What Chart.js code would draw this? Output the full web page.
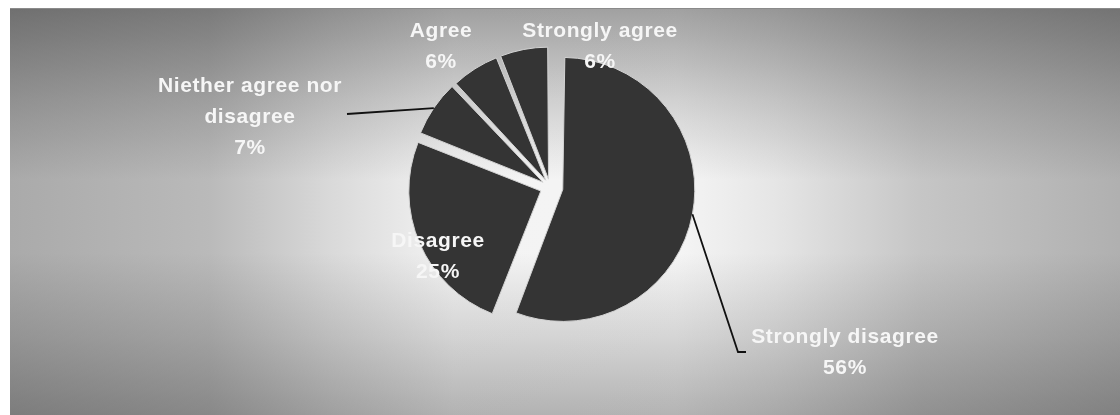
<!DOCTYPE html>
<html>
<head>
<meta charset="utf-8">
<script src="https://cdn.jsdelivr.net/npm/chart.js@4/dist/chart.umd.min.js"></script>
<style>
    body { margin: 0; background: #fff; }
    #wrap { position: relative; width: 1120px; height: 415px; }
    #panel {
        position: absolute; left: 10px; top: 8px; width: 1110px; height: 407px;
        background-image:
            linear-gradient(90deg, #acacac 0%, #bcbcbc 18%, #dcdcdc 29%, #f6f6f6 40%, #f8f8f8 60%, #e8e8e8 69%, #c8c8c8 82%, #b2b2b2 100%),
            linear-gradient(180deg, #a6a6a6 0%, #d6d6d6 22%, #fcfcfc 42%, #fcfcfc 60%, #dcdcdc 80%, #b8b8b8 100%);
        background-blend-mode: multiply;
        border-top: 1px solid #8a8a8a;
    }
    canvas { position: absolute; left: 0; top: 0; }
</style>
</head>
<body>
<div id="wrap">
    <div id="panel"></div>
    <canvas id="pie" width="1120" height="415"></canvas>
</div>
<script>
// survey answers, clockwise from 12 o'clock
const labels = ['Strongly disagree', 'Disagree', 'Niether agree nor disagree', 'Agree', 'Strongly agree'];
const values = [56, 25, 7, 6, 6];

// how each label is written (line breaks as in the picture)
const labelLines = [
    ['Strongly disagree'],
    ['Disagree'],
    ['Niether agree nor', 'disagree'],
    ['Agree'],
    ['Strongly agree']
];

// label placement relative to the pie centre: [dx, dy of first baseline], leader points or null
const labelLayout = [
    {dx: 295, dy: 156, leader: [[188, 165], [196, 165]]},
    {dx: -112, dy: 60, leader: null},
    {dx: -300, dy: -95, leader: [[-203, -73]]},
    {dx: -109, dy: -150, leader: null},
    {dx: 50, dy: -150, leader: null}
];

const pieRadius = 132;
const explode = [52, 40, 34, 32, 32]; // chart.js moves a slice by offset/4
const lineHeight = 31;

function fixOf(arc) {
    return 1 - Math.sin(Math.min(Math.PI, (arc.endAngle - arc.startAngle) || 0));
}

const pieLabels = {
    id: 'pieLabels',
    beforeDatasetsDraw(chart) {
        // chart.js also grows an exploded slice's radius; keep all slices the same size
        chart.getDatasetMeta(0).data.forEach(arc => {
            const shift = (arc.options.offset || 0) / 4;
            arc.outerRadius = pieRadius - shift * fixOf(arc);
        });
    },
    afterDatasetsDraw(chart) {
        const ctx = chart.ctx;
        const arcs = chart.getDatasetMeta(0).data;
        ctx.save();
        arcs.forEach((arc, i) => {
            const lay = labelLayout[i];
            const cx = arc.x, cy = arc.y;
            const mid = (arc.startAngle + arc.endAngle) / 2;
            if (lay.leader) {
                const r = pieRadius + (arc.options.offset || 0) / 4;
                ctx.beginPath();
                ctx.moveTo(cx + Math.cos(mid) * r, cy + Math.sin(mid) * r);
                lay.leader.forEach(p => ctx.lineTo(cx + p[0], cy + p[1]));
                ctx.strokeStyle = '#111';
                ctx.lineWidth = 1.8;
                ctx.stroke();
            }
            const lines = labelLines[i].concat([values[i] + '%']);
            ctx.font = 'bold 21px "Liberation Sans", Arial, sans-serif';
            ctx.letterSpacing = '0.6px';
            ctx.fillStyle = '#f6f6f6';
            ctx.textAlign = 'center';
            ctx.textBaseline = 'alphabetic';
            lines.forEach((t, k) => {
                ctx.fillText(t, cx + lay.dx, cy + lay.dy + k * lineHeight);
            });
        });
        ctx.restore();
    }
};

new Chart(document.getElementById('pie').getContext('2d'), {
    type: 'pie',
    data: {
        labels,
        datasets: [{
            data: values,
            backgroundColor: '#343434',
            borderColor: '#d2d2d2',
            borderWidth: 1,
            offset: explode,
            radius: pieRadius
        }]
    },
    options: {
        responsive: false,
        animation: false,
        layout: {padding: {left: 0, right: 20, top: 0, bottom: 41}},
        plugins: {
            legend: {display: false},
            tooltip: {enabled: false}
        }
    },
    plugins: [pieLabels]
});
</script>
</body>
</html>
